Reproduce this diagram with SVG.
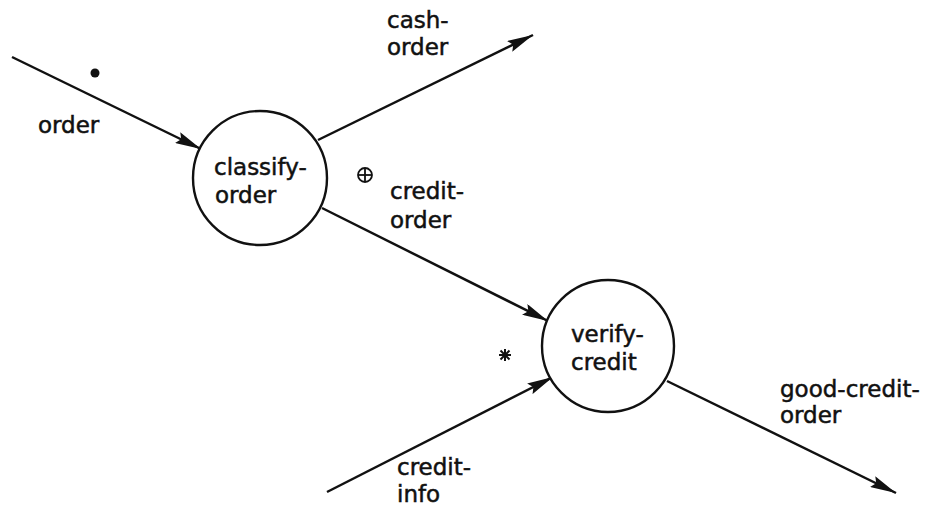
<svg xmlns="http://www.w3.org/2000/svg" width="932" height="507" viewBox="0 0 932 507">
<defs>
<style>
.node{fill:#fff;stroke:#111;stroke-width:2.4}
.edge{stroke:#111;stroke-width:2.5;fill:none}
text{font-family:"DejaVu Sans","Liberation Sans",sans-serif;font-size:23px;fill:#111;stroke:#111;stroke-width:0.5}
</style>
<marker id="ah" viewBox="0 0 26 12" refX="26" refY="6" markerWidth="26" markerHeight="12" markerUnits="userSpaceOnUse" orient="auto">
<path d="M0,0 L26,6 L0,12 L4,6 Z" fill="#111"/>
</marker>
</defs>
<rect width="932" height="507" fill="#fff"/>
<g id="connectors">
<line class="edge" x1="12" y1="57" x2="201" y2="149" marker-end="url(#ah)"/>
<line class="edge" x1="318" y1="140" x2="533" y2="35" marker-end="url(#ah)"/>
<line class="edge" x1="322" y1="208" x2="548" y2="321" marker-end="url(#ah)"/>
<line class="edge" x1="327" y1="492" x2="553" y2="377" marker-end="url(#ah)"/>
<line class="edge" x1="667" y1="381" x2="896" y2="493" marker-end="url(#ah)"/>
</g>
<g id="classify-order">
<circle class="node" cx="260" cy="178" r="67"/>
<text x="214" y="175">classify-</text>
<text x="215" y="203">order</text>
</g>
<g id="verify-credit">
<circle class="node" cx="608" cy="346" r="66"/>
<text x="571" y="342">verify-</text>
<text x="571" y="370">credit</text>
</g>
<g id="labels">
<circle cx="95" cy="73" r="4.5" fill="#111"/>
<text x="38" y="133">order</text>
<text x="387" y="28">cash-</text>
<text x="387" y="55">order</text>
<g fill="none" stroke="#111" stroke-width="1.8"><circle cx="365" cy="175" r="7"/><line x1="358" y1="175" x2="372" y2="175"/><line x1="365" y1="168" x2="365" y2="182"/></g>
<text x="390" y="199">credit-</text>
<text x="390" y="228">order</text>
<g stroke="#111" stroke-width="2"><line x1="499" y1="355" x2="511" y2="355"/><line x1="505" y1="349" x2="505" y2="361"/><line x1="500.5" y1="350.5" x2="509.5" y2="359.5"/><line x1="509.5" y1="350.5" x2="500.5" y2="359.5"/></g>
<text x="397" y="475">credit-</text>
<text x="397" y="502">info</text>
<text x="780" y="397">good-credit-</text>
<text x="780" y="423">order</text>
</g>
</svg>
